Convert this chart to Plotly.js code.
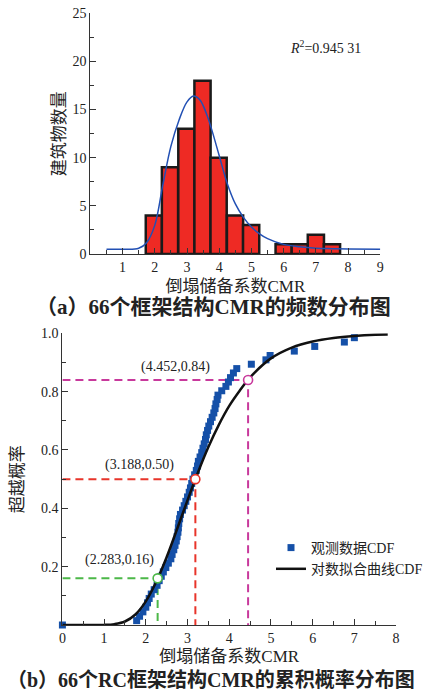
<!DOCTYPE html>
<html>
<head>
<meta charset="utf-8">
<script src="https://cdn.plot.ly/plotly-3.0.1.min.js"></script>
<style>
html,body{margin:0;padding:0;background:#fff;}
#chart{width:428px;height:693px;}
</style>
</head>
<body>
<div id="chart"></div>
<script>
// ---------- (a) histogram data ----------
const histBinCenters = [1.97, 2.47, 2.98, 3.48, 3.98, 4.49, 4.99, 6.00, 6.50, 7.00, 7.50];
const histCounts     = [4, 9, 13, 18, 10, 4, 3, 1, 1, 2, 1];
const histFitX = [0.5, 1.0, 1.5, 1.75, 2.0, 2.25, 2.5, 2.75, 3.0, 3.2, 3.4, 3.6, 3.75, 4.0, 4.25, 4.5, 4.75, 5.0, 5.25, 5.5, 6.0, 6.5, 7.0, 7.5, 8.0, 9.0];
const histFitY = [0.5, 0.5, 0.6, 1.2, 3.0, 7.2, 11.2, 13.9, 15.8, 16.4, 16.0, 14.6, 13.1, 10.2, 7.3, 5.2, 3.8, 2.8, 2.1, 1.6, 1.0, 0.75, 0.6, 0.55, 0.52, 0.5];
const histXTicks = [1, 2, 3, 4, 5, 6, 7, 8, 9];
const histYTicks = [0, 5, 10, 15, 20, 25];
const r2Text = "<i>R</i><sup>2</sup>=0.945 31";

// ---------- (b) CDF data ----------
const cdfObsX = [0.00, 1.78, 1.85, 1.93, 2.00, 2.04, 2.08, 2.13, 2.20, 2.27, 2.32, 2.37, 2.42, 2.48, 2.54, 2.60, 2.63,
  2.67, 2.70, 2.73, 2.75, 2.77, 2.78, 2.79, 2.81, 2.83, 2.88, 2.92, 2.96, 3.00, 3.04, 3.07, 3.10, 3.13,
  3.17, 3.21, 3.24, 3.26, 3.30, 3.34, 3.37, 3.40, 3.43, 3.45, 3.48, 3.51, 3.55, 3.59, 3.63, 3.66, 3.68,
  3.71, 3.73, 3.82, 3.92, 3.98, 4.03, 4.10, 4.18, 4.53, 4.88, 4.98, 5.56, 6.05, 6.76, 7.00];
const cdfObsY = [0.000, 0.015, 0.030, 0.045, 0.061, 0.076, 0.091, 0.106, 0.121, 0.136, 0.152, 0.167, 0.182, 0.197, 0.212, 0.227, 0.242,
  0.258, 0.273, 0.288, 0.303, 0.318, 0.333, 0.348, 0.364, 0.379, 0.394, 0.409, 0.424, 0.439, 0.455, 0.470, 0.485, 0.500,
  0.515, 0.530, 0.545, 0.561, 0.576, 0.591, 0.606, 0.621, 0.636, 0.652, 0.667, 0.682, 0.697, 0.712, 0.727, 0.742, 0.758,
  0.773, 0.788, 0.803, 0.818, 0.833, 0.848, 0.864, 0.879, 0.894, 0.909, 0.924, 0.939, 0.955, 0.970, 0.985];
const cdfFitX = [0.0, 0.5, 1.0, 1.25, 1.5, 1.75, 2.0, 2.25, 2.5, 2.75, 3.0, 3.25, 3.5, 3.75, 4.0, 4.25, 4.5, 5.0, 5.5, 6.0, 6.5, 7.0, 7.5, 7.8];
const cdfFitY = [0.0, 0.0, 0.0003, 0.003, 0.012, 0.036, 0.081, 0.148, 0.233, 0.329, 0.428, 0.523, 0.610, 0.686, 0.751, 0.803, 0.849, 0.914, 0.951, 0.972, 0.984, 0.991, 0.995, 0.996];
const cdfXTicks = [0, 1, 2, 3, 4, 5, 6, 7, 8];
const cdfYTicks = [0.2, 0.4, 0.6, 0.8, 1.0];
const keyX = [2.283, 3.188, 4.452];
const keyY = [0.16, 0.50, 0.84];
const keyLabels = ["(2.283,0.16)", "(3.188,0.50)", "(4.452,0.84)"];
const keyColors = ["#4cb848", "#e8342a", "#c8399c"];
const legendNames = ["观测数据CDF", "对数拟合曲线CDF"];

const serif = "Liberation Serif, Noto Sans CJK SC, serif";
const cjk = "Liberation Serif, Noto Sans CJK SC, sans-serif";

const traces = [];
traces.push({
  type: "bar", x: histBinCenters, y: histCounts, width: 0.503,
  marker: {color: "#ee2a24", line: {color: "#1a1a1a", width: 2.5}},
  xaxis: "x", yaxis: "y", showlegend: false, hoverinfo: "skip"
});
traces.push({
  type: "scatter", mode: "lines", x: histFitX, y: histFitY, line: {color: "#2250b4", width: 1.5, shape: "spline"},
  xaxis: "x", yaxis: "y", showlegend: false, hoverinfo: "skip"
});
for (let i = 0; i < keyX.length; i++) {
  traces.push({
    type: "scatter", mode: "lines", x: [0, keyX[i], keyX[i]], y: [keyY[i], keyY[i], 0],
    line: {color: keyColors[i], width: 2, dash: "8px,5px"},
    xaxis: "x2", yaxis: "y2", showlegend: false, hoverinfo: "skip"
  });
}
traces.push({
  type: "scatter", mode: "markers", x: cdfObsX, y: cdfObsY, name: legendNames[0],
  marker: {symbol: "square", color: "#1550a8", size: 7}, cliponaxis: false,
  xaxis: "x2", yaxis: "y2"
});
traces.push({
  type: "scatter", mode: "lines", x: cdfFitX, y: cdfFitY, name: legendNames[1],
  line: {color: "#111111", width: 2.5, shape: "spline"},
  xaxis: "x2", yaxis: "y2"
});
traces.push({
  type: "scatter", mode: "markers", x: keyX, y: keyY,
  marker: {symbol: "circle", size: 9, color: "#ffffff", line: {color: keyColors, width: 1.6}},
  xaxis: "x2", yaxis: "y2", showlegend: false, hoverinfo: "skip"
});

const axisCommon = {
  showline: true, linecolor: "#333", linewidth: 1, ticks: "inside", ticklen: 6, tickcolor: "#333",
  showgrid: false, zeroline: false, automargin: false,
  tickfont: {family: serif, size: 14, color: "#222"}
};

const annotations = [
  {xref: "x", yref: "y", x: 7.29, y: 21.5, text: r2Text, showarrow: false, font: {family: serif, size: 14, color: "#222"}},
  {xref: "paper", yref: "paper", x: 0.505, y: 1 - 307/693, yanchor: "middle", text: "（a）66个框架结构CMR的频数分布图", showarrow: false,
   font: {family: cjk, size: 21, color: "#222", weight: "bold"}},
  {xref: "paper", yref: "paper", x: 0.5, y: 1 - 679/693, yanchor: "middle", text: "（b）66个RC框架结构CMR的累积概率分布图", showarrow: false,
   font: {family: cjk, size: 20, color: "#222", weight: "bold"}}
];
const labelPos = [[1.38, 0.223], [1.85, 0.549], [2.71, 0.886]];
for (let i = 0; i < keyLabels.length; i++) {
  annotations.push({xref: "x2", yref: "y2", x: labelPos[i][0], y: labelPos[i][1], text: keyLabels[i], showarrow: false,
    font: {family: serif, size: 14, color: "#222"}});
}

const layout = {
  width: 428, height: 693, margin: {l: 0, r: 0, t: 0, b: 0},
  paper_bgcolor: "#fff", plot_bgcolor: "rgba(0,0,0,0)",
  font: {family: cjk, color: "#222"},
  bargap: 0,
  xaxis: Object.assign({}, axisCommon, {
    domain: [91.7/428, 385.7/428], anchor: "y", range: [0, 9],
    tickmode: "array", tickvals: histXTicks,
    minor: {tickmode: "array", tickvals: [0.5,1.5,2.5,3.5,4.5,5.5,6.5,7.5,8.5], ticks: "inside", ticklen: 4, tickcolor: "#333"},
    title: {text: "倒塌储备系数CMR", font: {family: cjk, size: 17, color: "#222"}, standoff: 6}
  }),
  yaxis: Object.assign({}, axisCommon, {
    domain: [1 - 254/693, 1 - 13.3/693], anchor: "x", range: [0, 25],
    tickmode: "array", tickvals: histYTicks,
    minor: {tickmode: "array", tickvals: [2.5,7.5,12.5,17.5,22.5], ticks: "inside", ticklen: 4, tickcolor: "#333"},
    title: {text: "建筑物数量", font: {family: cjk, size: 17, color: "#222"}, standoff: 2}
  }),
  xaxis2: Object.assign({}, axisCommon, {
    domain: [63.3/428, 401.7/428], anchor: "y2", range: [0, 8],
    tickmode: "array", tickvals: cdfXTicks,
    minor: {tickmode: "array", tickvals: [0.5,1.5,2.5,3.5,4.5,5.5,6.5,7.5], ticks: "inside", ticklen: 4, tickcolor: "#333"},
    title: {text: "倒塌储备系数CMR", font: {family: cjk, size: 17, color: "#222"}, standoff: 5}
  }),
  yaxis2: Object.assign({}, axisCommon, {
    domain: [1 - 625/693, 1 - 333.3/693], anchor: "x2", range: [0, 1],
    tickmode: "array", tickvals: cdfYTicks, tickformat: ".1f",
    minor: {tickmode: "array", tickvals: [0.1,0.3,0.5,0.7,0.9], ticks: "inside", ticklen: 4, tickcolor: "#333"},
    title: {text: "超越概率", font: {family: cjk, size: 17, color: "#222"}, standoff: 13}
  }),
  showlegend: true,
  legend: {x: 275/428, y: 1 - 532/693, xanchor: "left", yanchor: "top", bgcolor: "rgba(0,0,0,0)",
    font: {family: cjk, size: 14, color: "#222"}, tracegroupgap: 0},
  annotations: annotations
};

Plotly.newPlot("chart", traces, layout, {displayModeBar: false, staticPlot: true});
</script>
</body>
</html>
